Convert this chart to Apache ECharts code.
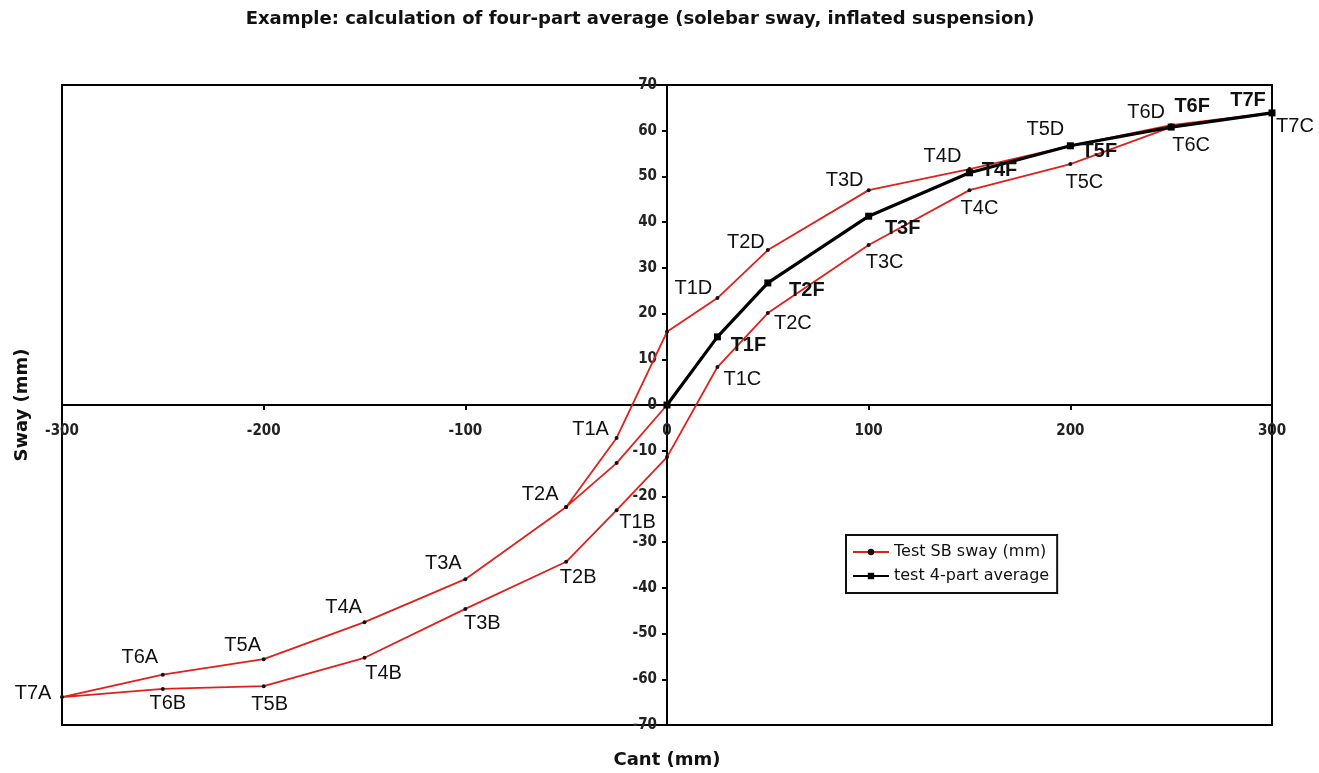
<!DOCTYPE html>
<html>
<head>
<meta charset="utf-8">
<script src="https://cdn.jsdelivr.net/npm/echarts@6/dist/echarts.min.js"></script>
<style>
html,body{margin:0;padding:0;background:#fff;}
#c{width:1319px;height:773px;}
</style>
</head>
<body>
<div id="c"></div>
<script>
// ---- data ----
var redCant = [0, -25, -50, -100, -150, -200, -250, -300, -250, -200, -150, -100, -50, -25, 0, 25, 50, 100, 150, 200, 250, 300, 250, 200, 150, 100, 50, 25, 0, -25, -50];
var redSway = [0, -12.7, -22.3, -38.1, -47.5, -55.6, -59.0, -63.9, -62.1, -61.5, -55.3, -44.6, -34.3, -23.0, -11.4, 8.3, 20.1, 35.0, 47.0, 52.7, 60.8, 63.9, 61.2, 56.7, 51.6, 47.0, 33.9, 23.4, 16.0, -7.2, -22.3];
var redLabels = ['', '', 'T2A', 'T3A', 'T4A', 'T5A', 'T6A', 'T7A', 'T6B', 'T5B', 'T4B', 'T3B', 'T2B', 'T1B', '', 'T1C', 'T2C', 'T3C', 'T4C', 'T5C', 'T6C', 'T7C', 'T6D', 'T5D', 'T4D', 'T3D', 'T2D', 'T1D', '', 'T1A', ''];
var avgCant = [0, 25, 50, 100, 150, 200, 250, 300];
var avgSway = [0, 14.9, 26.7, 41.3, 50.8, 56.7, 60.8, 63.9];
var avgLabels = ['', 'T1F', 'T2F', 'T3F', 'T4F', 'T5F', 'T6F', 'T7F'];
var seriesNames = ['Test SB sway (mm)', 'test 4-part average'];
var xTicks = [-300, 300, 100];
var yTicks = [-70, 70, 10];
var titleText = 'Example: calculation of four-part average (solebar sway, inflated suspension)';
var xName = 'Cant (mm)';
var yName = 'Sway (mm)';

// ---- label placement (pixel offsets of the label centre from the point) ----
var labelOffsets = {
  T1A:[-26,-8], T2A:[-26,-12], T3A:[-22,-16], T4A:[-21,-15], T5A:[-21,-14], T6A:[-23,-17], T7A:[-29,-4],
  T6B:[5,15], T5B:[6,18], T4B:[19,16], T3B:[17,15], T2B:[12,16], T1B:[21,12],
  T1C:[25,12], T2C:[25,10], T3C:[16,17], T4C:[10,18], T5C:[14,18], T6C:[20,18], T7C:[23,14],
  T1D:[-24,-10], T2D:[-22,-8], T3D:[-24,-10], T4D:[-27,-13], T5D:[-25,-16], T6D:[-25,-13],
  T1F:[31,9], T2F:[39,8], T3F:[34,12], T4F:[30,-2], T5F:[29,6], T6F:[21,-21], T7F:[-24,-12]
};

function build(xs, ys, names) {
  return xs.map(function (x, i) {
    var n = names[i];
    var d = { value: [x, ys[i]], name: n };
    if (n) {
      d.label = { show: true, offset: labelOffsets[n] || [0, 0] };
    }
    return d;
  });
}

var chart = echarts.init(document.getElementById('c'));
var tickFont = "'DejaVu Sans Condensed', 'DejaVu Sans', sans-serif";
var wideFont = "'DejaVu Sans', sans-serif";
chart.setOption({
  animation: false,
  backgroundColor: '#fff',
  graphic: [
    { type: 'text', x: 640, y: 19, style: { text: titleText, font: "bold 18px 'DejaVu Sans', sans-serif", fill: '#111', textAlign: 'center', textVerticalAlign: 'middle' } },
    { type: 'text', x: 667, y: 760, style: { text: xName, font: "bold 18px 'DejaVu Sans', sans-serif", fill: '#111', textAlign: 'center', textVerticalAlign: 'middle' } },
    { type: 'text', x: 22, y: 405, rotation: Math.PI / 2, style: { text: yName, font: "bold 18px 'DejaVu Sans', sans-serif", fill: '#111', textAlign: 'center', textVerticalAlign: 'middle' } }
  ],
  legend: {
    orient: 'vertical', left: 846, top: 535,
    data: seriesNames,
    borderColor: '#111', borderWidth: 2, padding: [9, 8, 9, 6],
    itemWidth: 36, itemHeight: 8, itemGap: 8,
    backgroundColor: '#fff',
    textStyle: { fontFamily: wideFont, fontSize: 16, color: '#111' }
  },
  grid: { left: 62, right: 47, top: 85, bottom: 48, show: true, borderColor: '#000', borderWidth: 2, containLabel: false },
  xAxis: {
    type: 'value', min: xTicks[0], max: xTicks[1], interval: xTicks[2],
    axisLine: { onZero: true, lineStyle: { color: '#000', width: 2 } },
    axisTick: { show: true, length: 5, lineStyle: { color: '#000', width: 2 } },
    splitLine: { show: false },
    axisLabel: { margin: -301, fontFamily: tickFont, fontWeight: 'bold', fontSize: 15, color: '#222', showMinLabel: true, showMaxLabel: true }
  },
  yAxis: {
    type: 'value', min: yTicks[0], max: yTicks[1], interval: yTicks[2],
    axisLine: { onZero: true, lineStyle: { color: '#000', width: 2 } },
    axisTick: { show: true, length: 5, lineStyle: { color: '#000', width: 2 } },
    splitLine: { show: false },
    axisLabel: { margin: -595, fontFamily: tickFont, fontWeight: 'bold', fontSize: 15, color: '#222' }
  },
  series: [
    {
      name: seriesNames[0], type: 'line',
      data: build(redCant, redSway, redLabels),
      symbol: 'circle', symbolSize: 4,
      itemStyle: { color: '#111' },
      lineStyle: { color: '#e0201b', width: 1.8 },
      label: { show: false, position: 'inside', align: 'center', verticalAlign: 'middle', formatter: '{b}',
               fontFamily: "'Liberation Sans', Arial, sans-serif", fontSize: 20, color: '#111' },
      z: 2
    },
    {
      name: seriesNames[1], type: 'line',
      data: build(avgCant, avgSway, avgLabels),
      symbol: 'rect', symbolSize: 7,
      itemStyle: { color: '#000' },
      lineStyle: { color: '#000', width: 3.2 },
      label: { show: false, position: 'inside', align: 'center', verticalAlign: 'middle', formatter: '{b}',
               fontFamily: "'Liberation Sans', Arial, sans-serif", fontSize: 20, fontWeight: 'bold', color: '#111' },
      z: 3
    }
  ]
});
</script>
</body>
</html>
